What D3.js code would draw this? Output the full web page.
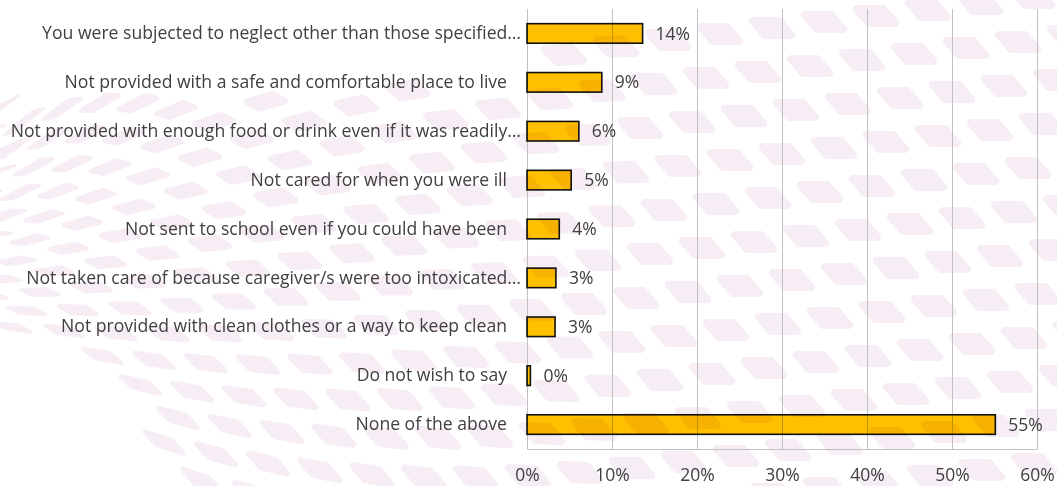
<!DOCTYPE html>
<html>
<head>
<meta charset="utf-8">
<script src="https://cdn.jsdelivr.net/npm/d3@7"></script>
<style>
  html, body { margin: 0; padding: 0; background: #ffffff; }
  svg { display: block; font-family: "Open Sans", Lato, sans-serif; }
</style>
</head>
<body>
<svg id="chart" width="1057" height="486"></svg>
<script>
// Survey responses: forms of neglect experienced (share of respondents, %)
const categories = [
  "You were subjected to neglect other than those specified…",
  "Not provided with a safe and comfortable place to live",
  "Not provided with enough food or drink even if it was readily…",
  "Not cared for when you were ill",
  "Not sent to school even if you could have been",
  "Not taken care of because caregiver/s were too intoxicated…",
  "Not provided with clean clothes or a way to keep clean",
  "Do not wish to say",
  "None of the above"
];
const values = [13.6, 8.8, 6.1, 5.2, 3.8, 3.4, 3.3, 0.4, 55.1];
const tickValues = [0, 10, 20, 30, 40, 50, 60];

const W = 1057, H = 486;
const plotTop = 9, plotBottom = 449, plotLeft = 527, plotRight = 1037;
const fontFamily = "'Open Sans', Lato, sans-serif";
const textColor = "#404040";

const svg = d3.select("#chart");

const x = d3.scaleLinear().domain([0, 60]).range([plotLeft, plotRight]);
const y = d3.scaleBand()
  .domain(categories)
  .range([plotTop, plotBottom])
  .paddingInner(0.6)
  .paddingOuter(0.3);

// ---- decorative backdrop: fan of rounded pink tiles ----
const tileColor = "#f7edf5";
const yc = 300;
function squeeze(p) {
  const t = Math.max(0, Math.min(1, p / 650));
  return 0.36 + 0.64 * (1 - (1 - t) * (1 - t));
}
function warp(p, q) { return [p, yc + (q - yc) * squeeze(p)]; }
const topEdge = d3.scaleLinear()
  .domain([0, 300, 500, 650, 850])
  .range([104, 98, 72, 30, -10]);
function inside(cx, cy) {
  if (cy < topEdge(cx)) return false;
  if (cy > 335 && cx < 60 + (cy - 335) * 0.95) return false;
  return true;
}
const tiles = [];
for (let i = -60; i < 80; i++) {
  for (let j = -60; j < 80; j++) {
    const p = 20 + i * 52 - j * 14;
    const q = 30 - i * 6 + j * 44;
    if (p < -60 || p > 1120) continue;
    const c = warp(p, q);
    if (c[1] < -30 || c[1] > 520) continue;
    if (!inside(c[0], c[1])) continue;
    const w = 13, hh = 7, k = 6;
    const pts = [[p - w - k, q - hh], [p + w - k, q - hh], [p + w + k, q + hh], [p - w + k, q + hh]]
      .map(d => warp(d[0], d[1]));
    tiles.push({ pts, sw: 8 * squeeze(p) });
  }
}
svg.append("g").attr("class", "backdrop")
  .selectAll("polygon")
  .data(tiles)
  .join("polygon")
  .attr("points", d => d.pts.map(pt => pt.join(",")).join(" "))
  .attr("fill", tileColor)
  .attr("stroke", tileColor)
  .attr("stroke-width", d => d.sw)
  .attr("stroke-linejoin", "round");

// ---- vertical gridlines ----
svg.append("g")
  .attr("class", "grid")
  .attr("transform", `translate(0,${plotBottom})`)
  .call(d3.axisBottom(x).tickValues(tickValues).tickSize(-(plotBottom - plotTop)).tickFormat(""))
  .call(g => g.select(".domain").remove())
  .call(g => g.selectAll(".tick line").attr("stroke", "#c0c0c0").attr("stroke-width", 1));

// ---- bars ----
const rows = categories.map((c, i) => ({ cat: c, val: values[i] }));
svg.append("g").attr("class", "bars")
  .selectAll("rect")
  .data(rows)
  .join("rect")
  .attr("x", x(0))
  .attr("y", d => y(d.cat))
  .attr("width", d => x(d.val) - x(0))
  .attr("height", y.bandwidth())
  .attr("fill", "#ffc000")
  .attr("stroke", "#111111")
  .attr("stroke-width", 1.6)
  .style("mix-blend-mode", "multiply");

// ---- value labels ----
svg.append("g").attr("class", "values")
  .selectAll("text")
  .data(rows)
  .join("text")
  .attr("x", d => x(d.val) + 13)
  .attr("y", d => y(d.cat) + y.bandwidth() / 2)
  .attr("dy", "0.35em")
  .attr("font-size", 17.5)
  .attr("font-family", fontFamily)
  .attr("fill", textColor)
  .text(d => d3.format(".0f")(d.val) + "%");

// ---- x axis ----
svg.append("g")
  .attr("class", "x-axis")
  .attr("transform", `translate(0,${plotBottom})`)
  .call(d3.axisBottom(x).tickValues(tickValues).tickSize(0).tickPadding(20).tickFormat(d => d + "%"))
  .call(g => g.select(".domain").attr("stroke", "#c0c0c0"))
  .call(g => g.selectAll("text").attr("font-size", 17.5).attr("fill", textColor).attr("font-family", fontFamily));

// ---- category axis ----
svg.append("g")
  .attr("class", "y-axis")
  .attr("transform", `translate(${plotLeft},0)`)
  .call(d3.axisLeft(y).tickSize(0).tickPadding(6))
  .call(g => g.select(".domain").remove())
  .call(g => g.selectAll("text")
    .attr("font-size", 17.6)
    .attr("fill", textColor)
    .attr("font-family", fontFamily)
    .attr("x", d => d.endsWith("…") ? -6 : -20));
</script>
</body>
</html>
